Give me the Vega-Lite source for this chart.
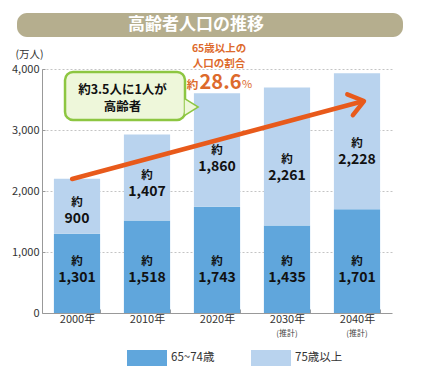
{
  "$schema": "https://vega.github.io/schema/vega-lite/v6.json",
  "autosize": {"type": "none"},
  "padding": {"left": 42, "top": 69, "right": 30, "bottom": 59},
  "width": 350,
  "height": 244,
  "background": "white",
  "config": {"font": "Noto Sans CJK JP", "view": {"stroke": null}},
  "datasets": {
    "pop": [
      {"year": "2000年", "group": "65~74歳", "value": 1301},
      {"year": "2000年", "group": "75歳以上", "value": 900},
      {"year": "2010年", "group": "65~74歳", "value": 1518},
      {"year": "2010年", "group": "75歳以上", "value": 1407},
      {"year": "2020年", "group": "65~74歳", "value": 1743},
      {"year": "2020年", "group": "75歳以上", "value": 1860},
      {"year": "2030年", "group": "65~74歳", "value": 1435},
      {"year": "2030年", "group": "75歳以上", "value": 2261},
      {"year": "2040年", "group": "65~74歳", "value": 1701},
      {"year": "2040年", "group": "75歳以上", "value": 2228}
    ],
    "notes": [
      {"year": "2030年", "note": "(推計)"},
      {"year": "2040年", "note": "(推計)"}
    ]
  },
  "layer": [
    {
      "data": {"name": "pop"},
      "layer": [
        {
          "mark": {"type": "bar"},
          "encoding": {
            "x": {
              "field": "year", "type": "nominal", "sort": null, "title": null,
              "scale": {"domain": ["2000年", "2010年", "2020年", "2030年", "2040年"], "paddingInner": 0.34, "paddingOuter": 0.17},
              "axis": {"labelAngle": 0, "tickBand": "extent", "tickSize": -4, "tickColor": "#999", "domainColor": "#999", "labelFontSize": 11, "labelColor": "#333", "labelPadding": 4}
            },
            "y": {
              "field": "value", "type": "quantitative", "stack": "zero", "title": "(万人)",
              "scale": {"domain": [0, 4000], "nice": false},
              "axis": {
                "values": [0, 500, 1000, 1500, 2000, 2500, 3000, 3500, 4000],
                "labelExpr": "datum.value % 1000 == 0 ? format(datum.value, ',') : ''",
                "grid": true, "gridDash": [2, 2], "gridColor": "#c4c4c4",
                "gridOpacity": {"condition": {"test": "datum.value % 1000 == 0 && datum.value > 0", "value": 1}, "value": 0},
                "tickSize": -3, "tickColor": "#999", "domainColor": "#999",
                "labelFontSize": 11, "labelColor": "#333", "labelPadding": 6,
                "titleAngle": 0, "titleX": -27, "titleY": -15, "titleAlign": "left", "titleBaseline": "middle",
                "titleFontWeight": "normal", "titleFontSize": 10.5, "titleColor": "#333"
              }
            },
            "order": {"field": "group", "type": "nominal", "sort": "ascending"},
            "color": {
              "field": "group", "type": "nominal",
              "scale": {"domain": ["65~74歳", "75歳以上"], "range": ["#60a6dc", "#b9d3ee"]},
              "legend": {
                "orient": "none", "legendX": 85, "legendY": 269, "direction": "horizontal", "title": null,
                "symbolType": "M-1,-0.4H1V0.4H-1Z", "symbolSize": 1600, "symbolStrokeWidth": 0, "symbolOpacity": 1,
                "labelFontSize": 11.5, "labelColor": "#333", "columnPadding": 36, "padding": 0, "labelOffset": 4
              }
            }
          }
        },
        {
          "transform": [{"filter": "datum.group == '65~74歳'"}],
          "mark": {"type": "text", "fontSize": 11.5, "fontWeight": "bold", "color": "#111", "baseline": "middle"},
          "encoding": {
            "x": {"field": "year", "type": "nominal", "sort": null, "title": null},
            "y": {"datum": 840, "type": "quantitative", "title": "(万人)", "scale": {"domain": [0, 4000], "nice": false}},
            "text": {"value": "約"}
          }
        },
        {
          "transform": [{"filter": "datum.group == '65~74歳'"}],
          "mark": {"type": "text", "fontSize": 14, "fontWeight": "bold", "color": "#111", "baseline": "middle"},
          "encoding": {
            "x": {"field": "year", "type": "nominal", "sort": null, "title": null},
            "y": {"datum": 575, "type": "quantitative", "title": "(万人)", "scale": {"domain": [0, 4000], "nice": false}},
            "text": {"field": "value", "type": "quantitative", "format": ","}
          }
        },
        {
          "mark": {"type": "text", "fontSize": 11.5, "fontWeight": "bold", "color": "#111", "baseline": "middle", "dy": -8},
          "encoding": {
            "x": {"field": "year", "type": "nominal", "sort": null, "title": null},
            "y": {"field": "value", "type": "quantitative", "stack": "zero", "bandPosition": 0.42, "title": "(万人)", "scale": {"domain": [0, 4000], "nice": false}},
            "detail": {"field": "group"},
            "order": {"field": "group", "type": "nominal", "sort": "ascending"},
            "text": {"condition": {"test": "datum.group == '65~74歳'", "value": ""}, "value": "約"}
          }
        },
        {
          "mark": {"type": "text", "fontSize": 14, "fontWeight": "bold", "color": "#111", "baseline": "middle", "dy": 8},
          "encoding": {
            "x": {"field": "year", "type": "nominal", "sort": null, "title": null},
            "y": {"field": "value", "type": "quantitative", "stack": "zero", "bandPosition": 0.42, "title": "(万人)", "scale": {"domain": [0, 4000], "nice": false}},
            "detail": {"field": "group"},
            "order": {"field": "group", "type": "nominal", "sort": "ascending"},
            "text": {"condition": {"test": "datum.group == '75歳以上'", "field": "value", "type": "quantitative", "format": ","}, "value": ""}
          }
        },
        {
          "data": {"name": "notes"},
          "mark": {"type": "text", "fontSize": 8, "color": "#444", "baseline": "middle"},
          "encoding": {
            "x": {"field": "year", "type": "nominal", "sort": null, "title": null},
            "y": {"datum": -350, "type": "quantitative", "title": "(万人)", "scale": {"domain": [0, 4000], "nice": false}},
            "text": {"field": "note"}
          }
        }
      ]
    },
    {
      "data": {"values": [{}]},
      "layer": [
        {
          "mark": {"type": "rect", "color": "#b5ae8e", "cornerRadius": 10},
          "encoding": {
            "x": {"datum": -0.357, "type": "quantitative", "scale": {"domain": [0, 5], "nice": false, "zero": false}, "axis": null},
            "x2": {"datum": 5.157},
            "y": {"datum": 4918, "type": "quantitative", "scale": {"domain": [0, 4000], "nice": false}, "axis": null},
            "y2": {"datum": 4525}
          }
        },
        {
          "mark": {"type": "text", "color": "white", "fontSize": 17, "fontWeight": "bold", "baseline": "middle"},
          "encoding": {
            "x": {"datum": 2.2, "type": "quantitative", "scale": {"domain": [0, 5], "nice": false, "zero": false}, "axis": null},
            "y": {"datum": 4721, "type": "quantitative", "scale": {"domain": [0, 4000], "nice": false}, "axis": null},
            "text": {"value": "高齢者人口の推移"}
          }
        },
        {
          "mark": {"type": "text", "color": "#dd6a2c", "fontSize": 10.5, "fontWeight": "bold", "baseline": "middle"},
          "encoding": {
            "x": {"datum": 2.53, "type": "quantitative", "scale": {"domain": [0, 5], "nice": false, "zero": false}, "axis": null},
            "y": {"datum": 4320, "type": "quantitative", "scale": {"domain": [0, 4000], "nice": false}, "axis": null},
            "text": {"value": "65歳以上の"}
          }
        },
        {
          "mark": {"type": "text", "color": "#dd6a2c", "fontSize": 10.5, "fontWeight": "bold", "baseline": "middle"},
          "encoding": {
            "x": {"datum": 2.53, "type": "quantitative", "scale": {"domain": [0, 5], "nice": false, "zero": false}, "axis": null},
            "y": {"datum": 4090, "type": "quantitative", "scale": {"domain": [0, 4000], "nice": false}, "axis": null},
            "text": {"value": "人口の割合"}
          }
        },
        {
          "mark": {"type": "text", "color": "#dd6a2c", "fontSize": 11.5, "fontWeight": "bold", "baseline": "middle"},
          "encoding": {
            "x": {"datum": 2.15, "type": "quantitative", "scale": {"domain": [0, 5], "nice": false, "zero": false}, "axis": null},
            "y": {"datum": 3726, "type": "quantitative", "scale": {"domain": [0, 4000], "nice": false}, "axis": null},
            "text": {"value": "約"}
          }
        },
        {
          "mark": {"type": "text", "color": "#dd6a2c", "fontSize": 20, "fontWeight": "bold", "baseline": "middle"},
          "encoding": {
            "x": {"datum": 2.55, "type": "quantitative", "scale": {"domain": [0, 5], "nice": false, "zero": false}, "axis": null},
            "y": {"datum": 3765, "type": "quantitative", "scale": {"domain": [0, 4000], "nice": false}, "axis": null},
            "text": {"value": "28.6"}
          }
        },
        {
          "mark": {"type": "text", "color": "#dd6a2c", "fontSize": 11, "baseline": "middle"},
          "encoding": {
            "x": {"datum": 2.93, "type": "quantitative", "scale": {"domain": [0, 5], "nice": false, "zero": false}, "axis": null},
            "y": {"datum": 3738, "type": "quantitative", "scale": {"domain": [0, 4000], "nice": false}, "axis": null},
            "text": {"value": "%"}
          }
        },
        {
          "mark": {"type": "rule", "color": "#e85a1b", "strokeWidth": 4.5, "strokeCap": "round"},
          "encoding": {
            "x": {"datum": 0.43, "type": "quantitative", "scale": {"domain": [0, 5], "nice": false, "zero": false}, "axis": null},
            "y": {"datum": 2197, "type": "quantitative", "scale": {"domain": [0, 4000], "nice": false}, "axis": null},
            "x2": {"datum": 4.57},
            "y2": {"datum": 3468}
          }
        },
        {
          "mark": {"type": "point", "shape": "M-1,-0.75L0,0L-1,0.75", "filled": false, "stroke": "#e85a1b", "strokeWidth": 4.5, "strokeCap": "round", "strokeJoin": "round", "size": 829, "angle": 345, "opacity": 1},
          "encoding": {
            "x": {"datum": 4.6, "type": "quantitative", "scale": {"domain": [0, 5], "nice": false, "zero": false}, "axis": null},
            "y": {"datum": 3475, "type": "quantitative", "scale": {"domain": [0, 4000], "nice": false}, "axis": null}
          }
        },
        {
          "mark": {"type": "point", "shape": "M-0.3,-1L1.3,0L-0.3,1Z", "filled": true, "fill": "#eef7da", "stroke": "#8dc641", "strokeWidth": 3, "size": 225, "opacity": 1},
          "encoding": {
            "x": {"datum": 2.071, "type": "quantitative", "scale": {"domain": [0, 5], "nice": false, "zero": false}, "axis": null},
            "y": {"datum": 3377, "type": "quantitative", "scale": {"domain": [0, 4000], "nice": false}, "axis": null}
          }
        },
        {
          "mark": {"type": "rect", "fill": "#eef7da", "stroke": "#8dc641", "strokeWidth": 2.5, "cornerRadius": 8},
          "encoding": {
            "x": {"datum": 0.329, "type": "quantitative", "scale": {"domain": [0, 5], "nice": false, "zero": false}, "axis": null},
            "x2": {"datum": 2.043},
            "y": {"datum": 3951, "type": "quantitative", "scale": {"domain": [0, 4000], "nice": false}, "axis": null},
            "y2": {"datum": 3164}
          }
        },
        {
          "mark": {"type": "point", "shape": "M-0.3,-1L1.3,0L-0.3,1Z", "filled": true, "fill": "#eef7da", "strokeWidth": 0, "size": 225, "opacity": 1},
          "encoding": {
            "x": {"datum": 2.071, "type": "quantitative", "scale": {"domain": [0, 5], "nice": false, "zero": false}, "axis": null},
            "y": {"datum": 3377, "type": "quantitative", "scale": {"domain": [0, 4000], "nice": false}, "axis": null}
          }
        },
        {
          "mark": {"type": "text", "color": "#111", "fontSize": 12.5, "fontWeight": "bold", "baseline": "middle"},
          "encoding": {
            "x": {"datum": 1.15, "type": "quantitative", "scale": {"domain": [0, 5], "nice": false, "zero": false}, "axis": null},
            "y": {"datum": 3650, "type": "quantitative", "scale": {"domain": [0, 4000], "nice": false}, "axis": null},
            "text": {"value": "約3.5人に1人が"}
          }
        },
        {
          "mark": {"type": "text", "color": "#111", "fontSize": 12.5, "fontWeight": "bold", "baseline": "middle"},
          "encoding": {
            "x": {"datum": 1.15, "type": "quantitative", "scale": {"domain": [0, 5], "nice": false, "zero": false}, "axis": null},
            "y": {"datum": 3370, "type": "quantitative", "scale": {"domain": [0, 4000], "nice": false}, "axis": null},
            "text": {"value": "高齢者"}
          }
        }
      ]
    }
  ],
  "resolve": {"scale": {"x": "independent"}, "axis": {"y": "independent"}}
}
